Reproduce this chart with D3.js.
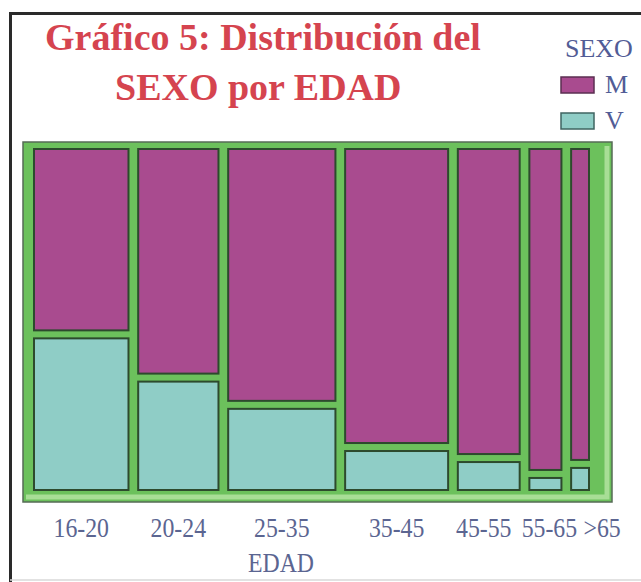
<!DOCTYPE html>
<meta charset="utf-8">
<style>
body { margin: 0; background: #fff; }
text { font-family: "Liberation Serif", "Times New Roman", serif; }
.title { font-weight: bold; font-size: 38px; fill: #d5444f; }
.tick-label { font-size: 28px; fill: #5b6591; text-anchor: middle; }
.legend text { font-size: 26px; fill: #525c96; }
</style>
<svg width="641" height="582"></svg>
<script src="https://d3js.org/d3.v7.min.js"></script>
<script>

const edades = ["16-20", "20-24", "25-35", "35-45", "45-55", "55-65", ">65"];
const mujeres = [37, 39, 58, 65, 41, 23, 13];   // M
const varones = [31, 19, 19, 9, 4, 1, 1];       // V
const sexos = ["M", "V"];
const colores = ["#a94b8f", "#8fcdc6"];
// small horizontal nudges so the crowded labels on the right don't overlap
const labelNudge = [0, 0, 0, 0, -5, 4, 22];

const svg = d3.select("svg");

// outer frame: only left and top show, bottom is faint
svg.append("path")
    .attr("d", "M10.5,582 V13.5 H641")
    .attr("fill", "none")
    .attr("stroke", "#2a2a2a")
    .attr("stroke-width", 3);
svg.append("line")
    .attr("x1", 10).attr("x2", 641)
    .attr("y1", 580).attr("y2", 580)
    .attr("stroke", "#d8d8d8")
    .attr("stroke-width", 1.5);

// title
svg.append("text").attr("class", "title")
    .attr("x", 45).attr("y", 50)
    .text("Gráfico 5: Distribución del");
svg.append("text").attr("class", "title")
    .attr("x", 115).attr("y", 100)
    .text("SEXO por EDAD");

// legend
const legend = svg.append("g").attr("class", "legend");
legend.append("text").attr("x", 565).attr("y", 57).text("SEXO");
sexos.forEach(function(s, i) {
    legend.append("rect")
        .attr("x", 561).attr("y", 77 + i * 36)
        .attr("width", 33).attr("height", 16)
        .attr("fill", colores[i])
        .attr("stroke", i == 0 ? "#5b2f52" : "#3f6461")
        .attr("stroke-width", 1.5);
    legend.append("text")
        .attr("x", 605).attr("y", 93 + i * 36)
        .text(s);
});

// green panel
const panel = { left: 23, top: 142, right: 612, bottom: 502 };
svg.append("rect")
    .attr("x", panel.left).attr("y", panel.top)
    .attr("width", panel.right - panel.left)
    .attr("height", panel.bottom - panel.top)
    .attr("fill", "#6cc15c")
    .attr("stroke", "#566b56")
    .attr("stroke-width", 1.5);
// bevel highlight right and bottom
svg.append("path")
    .attr("d", "M" + (panel.right - 5) + "," + (panel.top + 4) +
               " V" + (panel.bottom - 5) + " H" + (panel.left + 3))
    .attr("fill", "none")
    .attr("stroke", "#a8de96")
    .attr("stroke-width", 5);

// mosaic
const totals = edades.map((e, i) => mujeres[i] + varones[i]);
const total = d3.sum(totals);
const gap = 7.7;
const plotLeft = 33, plotRight = 590, plotTop = 148, plotBottom = 491;
const vGap = 6;

const xw = d3.scaleLinear()
    .domain([0, total])
    .range([0, plotRight - plotLeft - gap * (edades.length - 1)]);

const cum = d3.cumsum([0].concat(totals));
const colX = (i) => plotLeft + xw(cum[i]) + i * gap;
const colW = (i) => xw(totals[i]);

const yFrac = d3.scaleLinear()
    .domain([0, 1])
    .range([0, plotBottom - plotTop - vGap]);

const cells = [];
edades.forEach(function(e, i) {
    const fv = varones[i] / totals[i];
    const hv = yFrac(fv);
    cells.push({ x: colX(i), w: colW(i), y: plotBottom - hv, h: hv, s: 1 });
    cells.push({ x: colX(i), w: colW(i), y: plotTop, h: plotBottom - hv - vGap - plotTop, s: 0 });
});

svg.append("g").selectAll("rect")
    .data(cells)
    .enter()
    .append("rect")
    .attr("x", d => d.x + 1)
    .attr("y", d => d.y + 1)
    .attr("width", d => d.w - 2)
    .attr("height", d => Math.max(d.h - 2, 1))
    .attr("fill", d => colores[d.s])
    .attr("stroke", "#2d4a2d")
    .attr("stroke-width", 2);

// age labels
edades.forEach(function(e, i) {
    const cx = colX(i) + colW(i) / 2 + labelNudge[i];
    svg.append("text")
        .attr("class", "tick-label")
        .attr("transform", "translate(" + cx + ",537) scale(0.85,1)")
        .text(e);
});

svg.append("text")
    .attr("class", "tick-label")
    .attr("transform", "translate(281,572) scale(0.85,1)")
    .text("EDAD");

</script>
